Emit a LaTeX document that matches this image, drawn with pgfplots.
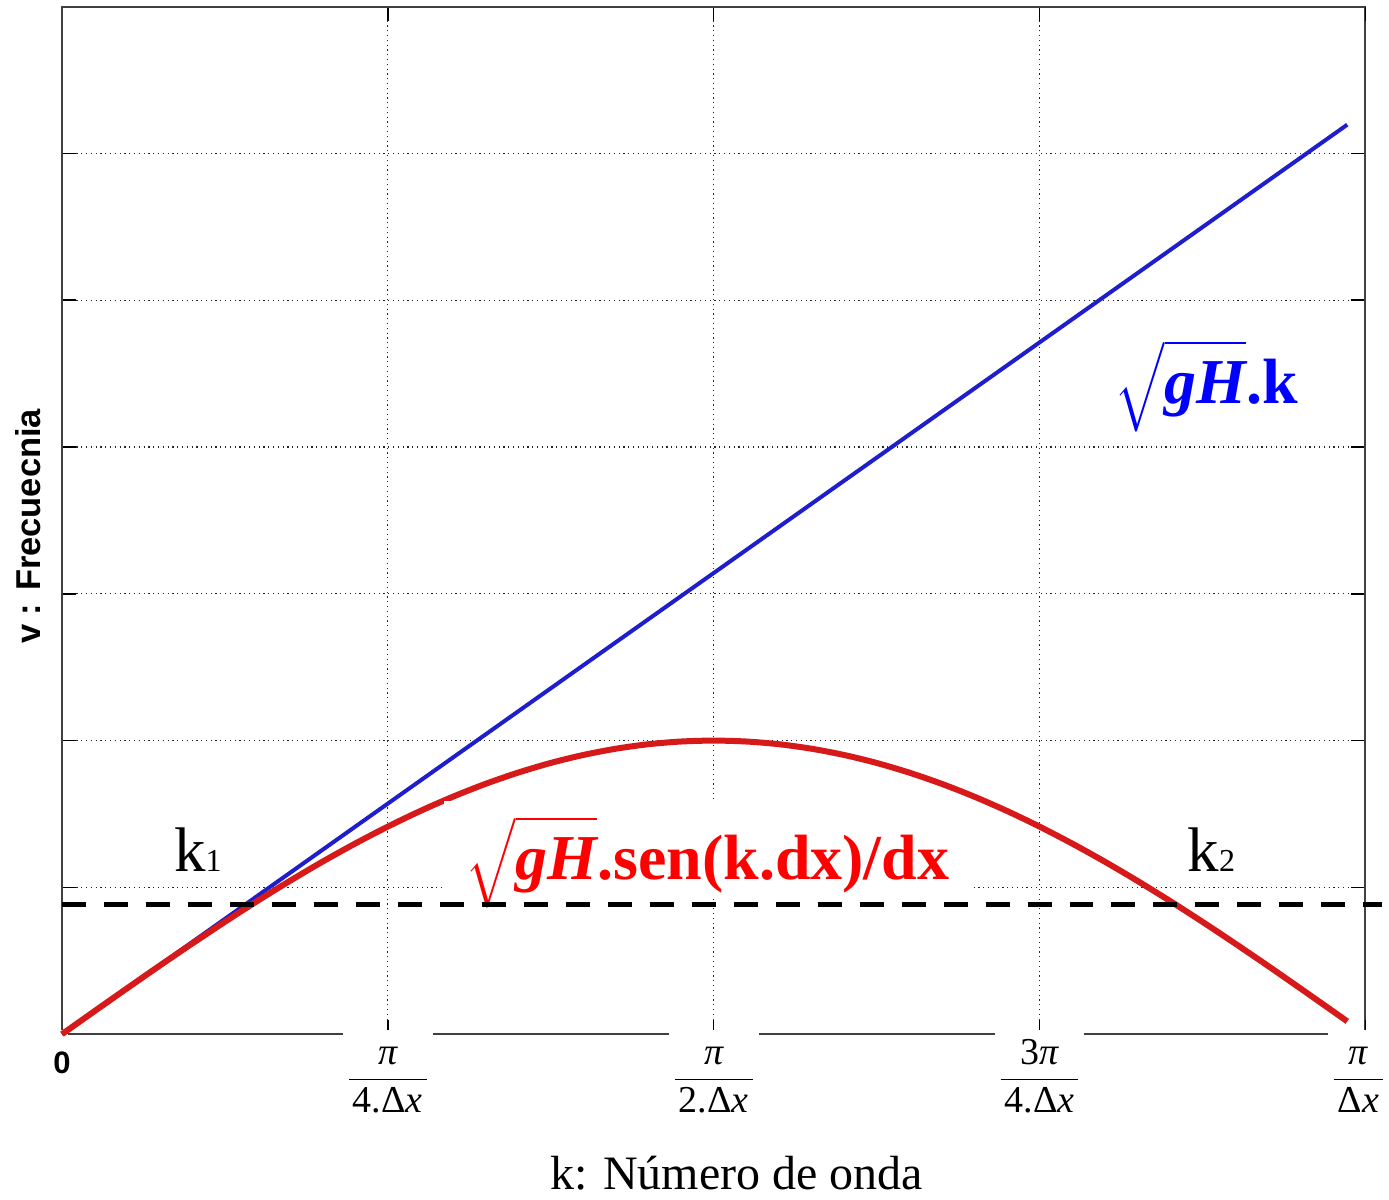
\documentclass[border=0pt]{standalone}
\usepackage{pgfplots}
\pgfplotsset{compat=1.18}
\usepackage{exscale}
\usepackage{fontspec}
\setmainfont{Liberation Serif}
\setsansfont{Liberation Sans}
\definecolor{curveblue}{RGB}{30,30,205}
\definecolor{curvered}{RGB}{215,25,25}
\newcommand{\fr}[2]{{\setlength{\arrayrulewidth}{0.9pt}\begin{tabular}{@{\hspace{2pt}}c@{\hspace{2pt}}}#1\\\hline #2\end{tabular}}}
\newcommand{\rgH}{$\sqrt{\vphantom{\rule[-7pt]{0pt}{23pt}}\mbox{\bfseries\itshape gH}}$}
\begin{document}
\begin{tikzpicture}
\begin{axis}[
  scale only axis, width=652pt, height=514pt,
  xmin=0, xmax=3.14159, ymin=0, ymax=7,
  clip=false,
  axis line style={line width=1pt, black!75},
  tick align=inside, major tick length=7pt,
  tick style={line width=0.8pt, black},
  xtick={0,0.785398,1.570796,2.356194},
  xticklabels={,{\fr{{\itshape π}}{4.Δ{\itshape x}}},{\fr{{\itshape π}}{2.Δ{\itshape x}}},{\fr{3{\itshape π}}{4.Δ{\itshape x}}}},
  extra x ticks={3.14159},
  extra x tick labels={{\fr{{\itshape π}}{Δ{\itshape x}}}},
  extra x tick style={grid=none, xticklabel style={xshift=-3.5pt}},
  xticklabel style={font=\fontsize{19}{23}\selectfont, fill=white, inner xsep=3pt, inner ysep=1.5pt, yshift=2.5pt},
  ytick={0,1,2,3,4,5,6,7},
  yticklabels={,,,,,,,},
  grid=major,
  major grid style={dash pattern=on 0.6pt off 1.8pt, line width=0.6pt, black!85},
]
\coordinate (SW) at (rel axis cs:0,0);
% straight line sqrt(gH) k
\addplot[curveblue, line width=2pt] coordinates {(0,0) (3.098,6.196)};
% sqrt(gH) sin(k dx)/dx
\addplot[curvered, line width=3pt, smooth] coordinates {
(0,0) (0.0785,0.1569) (0.1571,0.3129) (0.2356,0.4669) (0.3142,0.6180)
(0.3927,0.7654) (0.4712,0.9080) (0.5498,1.0450) (0.6283,1.1756) (0.7069,1.2989)
(0.7854,1.4142) (0.8639,1.5208) (0.9425,1.6180) (1.0210,1.7053) (1.0996,1.7820)
(1.1781,1.8478) (1.2566,1.9021) (1.3352,1.9447) (1.4137,1.9754) (1.4923,1.9938)
(1.5708,2.0000) (1.6493,1.9938) (1.7279,1.9754) (1.8064,1.9447) (1.8850,1.9021)
(1.9635,1.8478) (2.0420,1.7820) (2.1206,1.7053) (2.1991,1.6180) (2.2777,1.5208)
(2.3562,1.4142) (2.4347,1.2989) (2.5133,1.1756) (2.5918,1.0450) (2.6704,0.9080)
(2.7489,0.7654) (2.8274,0.6180) (2.9060,0.4669) (2.9845,0.3129) (3.0631,0.1569)
(3.098,0.0872)};
\node[anchor=base, fill=white, text height=39pt, text depth=9pt, inner xsep=11pt, inner ysep=0pt,
  font=\fontsize{32}{38}\selectfont\bfseries, text=red] at (axis cs:1.556,1.055)
  {\rgH.sen(k.dx)/dx};
\node[anchor=base, font=\fontsize{32}{38}\selectfont\bfseries, text=blue] at (axis cs:2.7585,4.297)
  {\rgH.k};
\node[anchor=base, font=\fontsize{31.5}{36}\selectfont] at (axis cs:0.3277,1.110) {k{\fontsize{16}{18}\selectfont 1}};
\node[anchor=base, font=\fontsize{31.5}{36}\selectfont] at (axis cs:2.7706,1.110) {k{\fontsize{16}{18}\selectfont 2}};
% level line
\addplot[black, line width=2.75pt, dash pattern=on 12pt off 9pt] coordinates {(0,0.885) (3.1826,0.885)};
\node[anchor=north, inner sep=0pt, yshift=-8.5pt, font=\sffamily\bfseries\fontsize{15.5}{18}\selectfont] at (axis cs:0,0) {0};
\node[anchor=base, font=\fontsize{24}{29}\selectfont] at (axis cs:1.626,-1.0554) {k: Número de onda};
\node[xshift=-16.75pt, rotate=90, anchor=center, font=\sffamily\bfseries\fontsize{17.25}{21}\selectfont] at (axis cs:0,3.459) {v : Frecuecnia};
\end{axis}
\path (SW) ++(-31pt,-82.5pt) rectangle ++(694.5pt,599pt);
\end{tikzpicture}
\end{document}
